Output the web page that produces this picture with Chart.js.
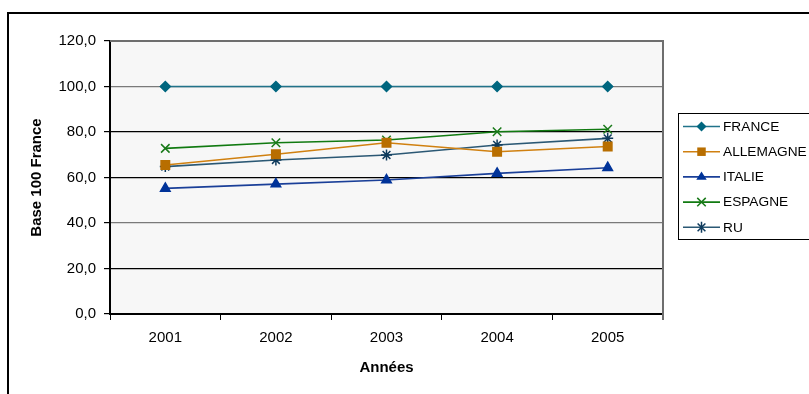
<!DOCTYPE html>
<html>
<head>
<meta charset="utf-8">
<script src="https://cdn.jsdelivr.net/npm/chart.js@4/dist/chart.umd.min.js"></script>
<style>
  html, body { margin: 0; padding: 0; background: #fff; }
  #wrap { width: 809px; height: 394px; position: relative; }
</style>
</head>
<body>
<div id="wrap"><canvas id="c" width="809" height="394"></canvas></div>
<script>
// Années et indices (base 100 = France)
const years = ['2001', '2002', '2003', '2004', '2005'];
const france = [100, 100, 100, 100, 100];
const allemagne = [65.5, 70.2, 75.3, 71.3, 73.6];
const italie = [55.2, 57.1, 58.9, 61.8, 64.3];
const espagne = [72.8, 75.3, 76.5, 80.1, 81.2];
const ru = [64.8, 67.7, 69.9, 74.3, 77.2];
const yTicks = [0, 20, 40, 60, 80, 100, 120];

const FONT = '"Liberation Sans", Arial, sans-serif';

function series(label, data, line, fill, style, radius) {
  return {
    label, data,
    borderColor: line, backgroundColor: fill,
    pointBackgroundColor: fill, pointBorderColor: fill,
    pointStyle: style, pointRadius: radius, pointBorderWidth: 1.5,
    borderWidth: 1.6, tension: 0, fill: false
  };
}

// Marqueurs de la légende
function marker(ctx, style, x, y, r, color) {
  ctx.save();
  ctx.fillStyle = color; ctx.strokeStyle = color; ctx.lineWidth = 1.5;
  ctx.beginPath();
  if (style === 'rectRot') {
    ctx.moveTo(x, y - r); ctx.lineTo(x + r, y); ctx.lineTo(x, y + r); ctx.lineTo(x - r, y);
    ctx.closePath(); ctx.fill();
  } else if (style === 'rect') {
    const s = r * Math.SQRT1_2;
    ctx.fillRect(x - s, y - s, 2 * s, 2 * s);
  } else if (style === 'triangle') {
    const h = r * 1.5;
    ctx.moveTo(x, y - r); ctx.lineTo(x + r * 0.95, y + h - r); ctx.lineTo(x - r * 0.95, y + h - r);
    ctx.closePath(); ctx.fill();
  } else if (style === 'crossRot') {
    const s = r * Math.SQRT1_2;
    ctx.moveTo(x - s, y - s); ctx.lineTo(x + s, y + s);
    ctx.moveTo(x + s, y - s); ctx.lineTo(x - s, y + s); ctx.stroke();
  } else if (style === 'star') {
    const s = r * Math.SQRT1_2;
    ctx.moveTo(x - s, y - s); ctx.lineTo(x + s, y + s);
    ctx.moveTo(x + s, y - s); ctx.lineTo(x - s, y + s);
    ctx.moveTo(x, y - r); ctx.lineTo(x, y + r); ctx.stroke();
  }
  ctx.restore();
}

const framePlugin = {
  id: 'frame',
  beforeDraw(chart) {
    const { ctx, chartArea: a } = chart;
    ctx.save();
    ctx.fillStyle = '#fff';
    ctx.fillRect(0, 0, chart.width, chart.height);
    // cadre extérieur
    ctx.strokeStyle = '#000'; ctx.lineWidth = 2;
    ctx.beginPath();
    ctx.moveTo(8, 394); ctx.lineTo(8, 13); ctx.lineTo(809, 13);
    ctx.stroke();
    // fond de la zone de traçage
    ctx.fillStyle = '#F7F7F7';
    ctx.fillRect(a.left, a.top, a.right - a.left, a.bottom - a.top);
    ctx.restore();
  },
  afterDatasetsDraw(chart) {
    const { ctx, chartArea: a } = chart;
    ctx.save();
    // bordure haute et droite
    ctx.strokeStyle = '#6E6E6E'; ctx.lineWidth = 2;
    ctx.beginPath();
    ctx.moveTo(a.left, a.top); ctx.lineTo(a.right, a.top); ctx.lineTo(a.right, a.bottom + 6);
    ctx.stroke();
    ctx.restore();
  },
  afterDraw(chart) {
    const { ctx } = chart;
    const x0 = 678.5, top = 113.5, bottom = 239.5;
    ctx.save();
    ctx.fillStyle = '#fff';
    ctx.fillRect(x0, top, 140, bottom - top);
    ctx.strokeStyle = '#000'; ctx.lineWidth = 1;
    ctx.strokeRect(x0, top, 140, bottom - top);
    ctx.font = '13.7px ' + FONT;
    ctx.textBaseline = 'middle';
    chart.data.datasets.forEach((ds, i) => {
      const y = 126.5 + i * 25.2;
      ctx.strokeStyle = ds.borderColor; ctx.lineWidth = 1.6;
      ctx.beginPath(); ctx.moveTo(683, y); ctx.lineTo(720, y); ctx.stroke();
      marker(ctx, ds.pointStyle, 701.5, y, ds.pointRadius, ds.pointBackgroundColor);
      ctx.fillStyle = '#000';
      ctx.fillText(ds.label, 723, y + 0.5);
    });
    ctx.restore();
  }
};

new Chart(document.getElementById('c'), {
  type: 'line',
  data: {
    labels: years,
    datasets: [
      series('FRANCE', france, '#21738A', '#00667F', 'rectRot', 5),
      series('ALLEMAGNE', allemagne, '#D08010', '#B86E00', 'rect', 6),
      series('ITALIE', italie, '#1A3F98', '#003399', 'triangle', 5.5),
      series('ESPAGNE', espagne, '#117A11', '#1A7A1A', 'crossRot', 6),
      series('RU', ru, '#2B5874', '#0E3A5C', 'star', 5.5)
    ]
  },
  options: {
    responsive: false,
    animation: false,
    events: [],
    layout: { padding: { top: 41, right: 146, bottom: 0, left: 0 } },
    plugins: { legend: { display: false }, tooltip: { enabled: false } },
    scales: {
      x: {
        offset: true,
        grid: { offset: true, drawOnChartArea: false, color: '#000', tickColor: '#000', tickLength: 6, lineWidth: 1 },
        border: { color: '#000', width: 2 },
        ticks: { color: '#000', font: { family: FONT, size: 15 }, padding: 9, maxRotation: 0 },
        title: { display: true, text: 'Années', color: '#000', font: { family: FONT, size: 15, weight: 'bold', lineHeight: 1.2 }, padding: { top: 17, bottom: 17 } },
        afterFit(scale) { scale.height = 80; }
      },
      y: {
        min: 0, max: 120,
        afterBuildTicks(scale) { scale.ticks = yTicks.map(v => ({ value: v })); },
        grid: {
          color: ctx => (ctx.tick && (ctx.tick.value === 40 || ctx.tick.value === 100 || ctx.tick.value === 120)) ? '#7A7A7A' : '#000',
          lineWidth: 1.2, tickColor: '#000', tickLength: 6
        },
        border: { color: '#000', width: 2 },
        ticks: {
          color: '#000', font: { family: FONT, size: 15 }, padding: 8,
          callback: v => v.toFixed(1).replace('.', ',')
        },
        title: { display: true, text: 'Base 100 France', color: '#000', font: { family: FONT, size: 15, weight: 'bold', lineHeight: 1.2 }, padding: { top: 28, bottom: 28 } },
        afterFit(scale) { scale.width = 110; }
      }
    }
  },
  plugins: [framePlugin]
});
</script>
</body>
</html>
